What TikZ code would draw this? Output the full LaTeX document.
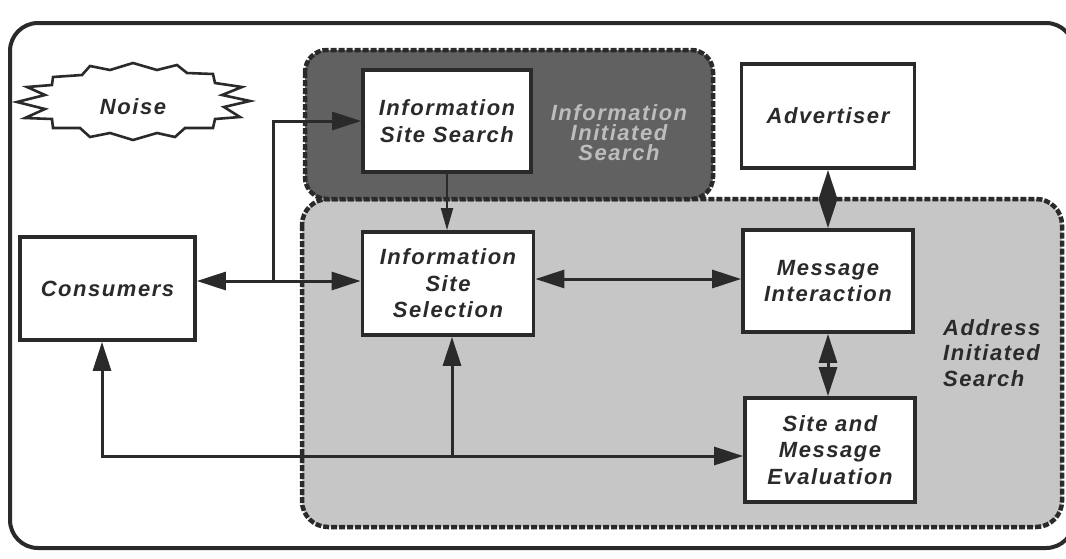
\documentclass[tikz,border=0pt]{standalone}
\usepackage{fontspec}
\setmainfont{Liberation Sans}
\newfontfamily\lab[LetterSpace=7]{Liberation Sans}
\usetikzlibrary{arrows.meta}
\definecolor{ink}{HTML}{2A2A2A}
\definecolor{darkreg}{HTML}{616161}
\definecolor{lightreg}{HTML}{C6C6C6}
\definecolor{embossed}{HTML}{BDBDBD}
\tikzset{
  boxnode/.style={draw=ink, line width=3.8pt, fill=white, align=center,
    font=\lab\bfseries\itshape\fontsize{22}{26.5}\selectfont, text=ink,
    inner sep=0pt},
  region/.style={draw=ink, line width=4.5pt, dash pattern=on 6pt off 2pt},
  conn/.style={draw=ink, line width=3pt},
  thinconn/.style={draw=ink, line width=2pt},
  bigtip/.tip={Triangle[length=29pt,width=18pt]},
  smalltip/.tip={Triangle[length=22pt,width=12pt]},
  lbl/.style={font=\lab\bfseries\itshape\fontsize{22}{26}\selectfont, inner sep=0pt}
}
\begin{document}
\begin{tikzpicture}[x=1pt,y=-1pt]
\useasboundingbox (0,0) rectangle (1066,558);
\fill[white] (0,0) rectangle (1066,558);
% outer frame
\draw[ink, line width=4pt, rounded corners=28pt] (10,23) rectangle (1074,548);
% regions
\path[region, fill=lightreg, rounded corners=26pt] (302,199) rectangle (1062,527);
\path[region, fill=darkreg, rounded corners=22pt] (305,50) rectangle (713,199);
% noise starburst
\draw[ink, line width=2.6pt, fill=white, line join=miter]
  (53,77) -- (82,75) -- (90,66) -- (110,70) -- (133,63) -- (157,70) -- (177,65)
  -- (187,73) -- (213,74) -- (215,83) -- (242,87) -- (222,95) -- (250,101)
  -- (224,107) -- (240,117) -- (215,119) -- (213,128) -- (185,128) -- (175,137)
  -- (157,133) -- (133,140) -- (110,133) -- (90,137) -- (80,128) -- (53,128)
  -- (52,119) -- (25,118) -- (45,109) -- (17,102) -- (45,95) -- (27,87)
  -- (52,85) -- cycle;
\node[lbl, text=ink] (noise) at (133,107) {Noise};
% boxes
\node[boxnode, minimum width=168pt, minimum height=102pt] (iss) at (447,121) {Information\\Site Search};
\node[boxnode, minimum width=175pt, minimum height=103pt] (cons) at (107.5,288.5) {Consumers};
\node[boxnode, minimum width=171pt, minimum height=103pt] (sel) at (448,283.5) {Information\\Site\\Selection};
\node[boxnode, minimum width=173pt, minimum height=104pt] (adv) at (828,116) {Advertiser};
\node[boxnode, minimum width=170pt, minimum height=102pt] (msg) at (828,281) {Message\\Interaction};
\node[boxnode, minimum width=170pt, minimum height=104pt] (eval) at (830,450) {Site and\\Message\\Evaluation};
% region labels
\node[lbl, text=embossed, align=center, font=\lab\bfseries\itshape\fontsize{22}{20}\selectfont] (iislbl) at (619,133) {Information\\Initiated\\Search};
\node[lbl, text=ink, align=left, font=\lab\bfseries\itshape\fontsize{22}{25.5}\selectfont, anchor=west] (aislbl) at (943,353) {Address\\Initiated\\Search};
% connectors
\coordinate (j1) at (273,281);
\draw[conn, -{bigtip}] (j1) -- (cons.east |- j1);
\draw[conn, -{bigtip}] (j1) -- (sel.west |- j1);
\draw[conn, -{bigtip}] (j1) |- (iss.west);
\draw[thinconn, -{smalltip}] (iss.south) -- (iss.south |- sel.north);
\coordinate (j2) at (640,279);
\draw[conn, {bigtip}-{bigtip}] (sel.east |- j2) -- (msg.west |- j2);
\draw[conn, {bigtip}-{bigtip}] (adv.south) -- (msg.north);
\draw[conn, {bigtip}-{bigtip}] (msg.south) -- (msg.south |- eval.north);
\coordinate (b1) at (102,456);
\coordinate (b2) at (452,456);
\draw[conn, {bigtip}-{bigtip}] (b1 |- cons.south) |- (eval.west |- b1);
\draw[conn, -{bigtip}] (b2) -- (b2 |- sel.south);
\end{tikzpicture}
\end{document}
